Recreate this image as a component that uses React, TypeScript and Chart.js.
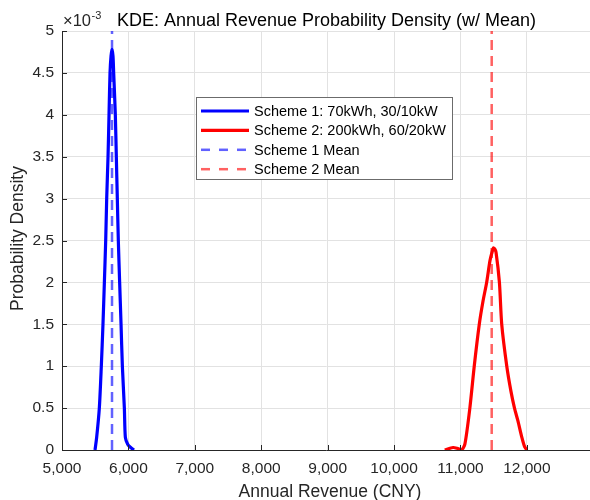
import React, { useEffect, useRef } from "react";
import { Chart, registerables } from "chart.js";

Chart.register(...registerables);

// ---- Data ----
const scheme1Revenue = [5497, 5522, 5562, 5592, 5617, 5638, 5658, 5673, 5693, 5708, 5723, 5738, 5753, 5768, 5778, 5803, 5818, 5833, 5848, 5868, 5889, 5909, 5939, 5954, 5989, 6034, 6084];
const scheme1Density = [0, 0.00015, 0.0005, 0.001, 0.0015, 0.002, 0.0025, 0.003, 0.0035, 0.004, 0.0045, 0.0047, 0.00478, 0.0047, 0.0045, 0.004, 0.0035, 0.003, 0.0025, 0.002, 0.0015, 0.001, 0.0005, 0.00015, 0.00007, 0.00003, 0];

const scheme2Revenue = [10763, 10889, 10949, 11015, 11066, 11141, 11207, 11283, 11340, 11394, 11444, 11475, 11495, 11515, 11535, 11586, 11621, 11697, 11760, 11813, 11864, 11924, 11965, 12000];
const scheme2Density = [0, 0.00003, 0.00002, 0, 0.00007, 0.0005, 0.001, 0.0015, 0.00178, 0.002, 0.00226, 0.00236, 0.00241, 0.0024, 0.00236, 0.002, 0.0015, 0.001, 0.0007, 0.0005, 0.00035, 0.00015, 0.00004, 0];

const scheme1Mean = 5753;
const scheme2Mean = 11470;

const seriesLabels = [
  "Scheme 1: 70kWh, 30/10kW",
  "Scheme 2: 200kWh, 60/20kW",
  "Scheme 1 Mean",
  "Scheme 2 Mean",
];

const xTicks = [5000, 6000, 7000, 8000, 9000, 10000, 11000, 12000];
const yTicks = [0, 0.0005, 0.001, 0.0015, 0.002, 0.0025, 0.003, 0.0035, 0.004, 0.0045, 0.005];
const yTickLabels = ["0", "0.5", "1", "1.5", "2", "2.5", "3", "3.5", "4", "4.5", "5"];

const xMin = 5000;
const xMax = 12950;
const yMin = 0;
const yMax = 0.005;

const titleText = "KDE: Annual Revenue Probability Density (w/ Mean)";
const xTitle = "Annual Revenue (CNY)";
const yTitle = "Probability Density";
const exponentBase = "\u00d710";
const exponentPower = "-3";

const FONT = '"Liberation Sans", Arial, Helvetica, sans-serif';
const AXIS_COLOR = "#262626";

function toPoints(xs: number[], ys: number[]) {
  return xs.map((x, i) => ({ x, y: ys[i] }));
}

const decorPlugin = {
  id: "decor",
  afterDraw(chart: any) {
    const ctx: CanvasRenderingContext2D = chart.ctx;
    const { left, right, top, bottom } = chart.chartArea;
    const xs = chart.scales.x;
    const ys = chart.scales.y;
    ctx.save();

    // inward tick marks (MATLAB style)
    ctx.strokeStyle = AXIS_COLOR;
    ctx.lineWidth = 1;
    ctx.beginPath();
    xTicks.forEach((v) => {
      const px = Math.round(xs.getPixelForValue(v)) + 0.5;
      ctx.moveTo(px, bottom);
      ctx.lineTo(px, bottom - 5);
    });
    yTicks.forEach((v) => {
      const py = Math.round(ys.getPixelForValue(v)) + 0.5;
      ctx.moveTo(left, py);
      ctx.lineTo(left + 5, py);
    });
    ctx.stroke();

    // title
    ctx.fillStyle = "#000";
    ctx.font = `18px ${FONT}`;
    ctx.textAlign = "center";
    ctx.textBaseline = "alphabetic";
    ctx.fillText(titleText, 326.5, 26);

    // exponent label
    ctx.fillStyle = AXIS_COLOR;
    ctx.textAlign = "left";
    ctx.font = `16.5px ${FONT}`;
    ctx.fillText(exponentBase, left + 1, 26);
    const w = ctx.measureText(exponentBase).width;
    ctx.font = `11px ${FONT}`;
    ctx.fillText(exponentPower, left + 1 + w + 0.5, 19);

    // axis titles
    ctx.font = `17.5px ${FONT}`;
    ctx.textAlign = "center";
    ctx.fillText(xTitle, (left + right) / 2 + 4, 497);
    ctx.save();
    ctx.translate(23, (top + bottom) / 2 - 2);
    ctx.rotate(-Math.PI / 2);
    ctx.fillText(yTitle, 0, 0);
    ctx.restore();

    // legend
    const bx = 196.5, by = 97.5, bw = 256, bh = 82;
    ctx.fillStyle = "#fff";
    ctx.fillRect(bx, by, bw, bh);
    ctx.strokeStyle = "#6b6b6b";
    ctx.lineWidth = 1;
    ctx.strokeRect(bx, by, bw, bh);
    ctx.font = `14.5px ${FONT}`;
    ctx.textAlign = "left";
    ctx.textBaseline = "middle";
    chart.data.datasets.forEach((ds: any, i: number) => {
      const cy = 111 + i * 19.4;
      ctx.save();
      ctx.strokeStyle = ds.borderColor;
      ctx.lineWidth = ds.borderDash && ds.borderDash.length ? 2.5 : 3.2;
      ctx.setLineDash(ds.borderDash && ds.borderDash.length ? [9, 9] : []);
      ctx.beginPath();
      ctx.moveTo(201, cy);
      ctx.lineTo(249, cy);
      ctx.stroke();
      ctx.restore();
      ctx.fillStyle = "#000";
      ctx.fillText(ds.label, 254, cy + 1);
    });

    ctx.restore();
  },
};

export default function App() {
  const canvasRef = useRef<HTMLCanvasElement | null>(null);

  useEffect(() => {
    if (!canvasRef.current) return;
    const chart = new Chart(canvasRef.current, {
      type: "scatter",
      data: {
        datasets: [
          {
            label: seriesLabels[0],
            data: toPoints(scheme1Revenue, scheme1Density),
            showLine: true,
            borderColor: "#0000ff",
            borderWidth: 3.2,
            pointRadius: 0,
            tension: 0.25,
            fill: false,
          },
          {
            label: seriesLabels[1],
            data: toPoints(scheme2Revenue, scheme2Density),
            showLine: true,
            borderColor: "#ff0000",
            borderWidth: 3.2,
            pointRadius: 0,
            tension: 0.25,
            fill: false,
          },
          {
            label: seriesLabels[2],
            data: [
              { x: scheme1Mean, y: yMin },
              { x: scheme1Mean, y: yMax },
            ],
            showLine: true,
            borderColor: "rgba(0,0,255,0.62)",
            borderWidth: 2.5,
            borderDash: [10, 6],
            pointRadius: 0,
            fill: false,
          },
          {
            label: seriesLabels[3],
            data: [
              { x: scheme2Mean, y: yMin },
              { x: scheme2Mean, y: yMax },
            ],
            showLine: true,
            borderColor: "rgba(255,0,0,0.62)",
            borderWidth: 2.5,
            borderDash: [10, 6],
            pointRadius: 0,
            fill: false,
          },
        ],
      },
      options: {
        animation: false,
        responsive: false,
        devicePixelRatio: 1,
        layout: { padding: { top: 31, left: 0, right: 0, bottom: 0 } },
        plugins: {
          legend: { display: false },
          title: { display: false },
          tooltip: { enabled: false },
        },
        scales: {
          x: {
            type: "linear",
            min: xMin,
            max: xMax,
            afterBuildTicks: (scale: any) => {
              scale.ticks = xTicks.map((v) => ({ value: v }));
            },
            afterFit: (scale: any) => {
              scale.height = 50;
            },
            ticks: {
              color: AXIS_COLOR,
              font: { family: FONT, size: 15.5 },
              padding: 9,
              maxRotation: 0,
              autoSkip: false,
              callback: (v: any) => Number(v).toLocaleString("en-US"),
            },
            grid: {
              color: "#e2e2e2",
              drawTicks: false,
              lineWidth: 1,
            },
            border: { display: true, color: AXIS_COLOR, width: 1 },
          },
          y: {
            type: "linear",
            min: yMin,
            max: yMax,
            afterBuildTicks: (scale: any) => {
              scale.ticks = yTicks.map((v) => ({ value: v }));
            },
            afterFit: (scale: any) => {
              scale.width = 62;
            },
            ticks: {
              color: AXIS_COLOR,
              font: { family: FONT, size: 15.5 },
              padding: 8,
              autoSkip: false,
              callback: (_v: any, i: number) => yTickLabels[i],
            },
            grid: {
              color: "#e2e2e2",
              drawTicks: false,
              lineWidth: 1,
            },
            border: { display: true, color: AXIS_COLOR, width: 1 },
          },
        },
      },
      plugins: [decorPlugin],
    });
    return () => chart.destroy();
  }, []);

  return (
    <div style={{ position: "absolute", left: 0, top: 0, width: 590, height: 500, background: "#fff" }}>
      <canvas ref={canvasRef} width={590} height={500} />
    </div>
  );
}
